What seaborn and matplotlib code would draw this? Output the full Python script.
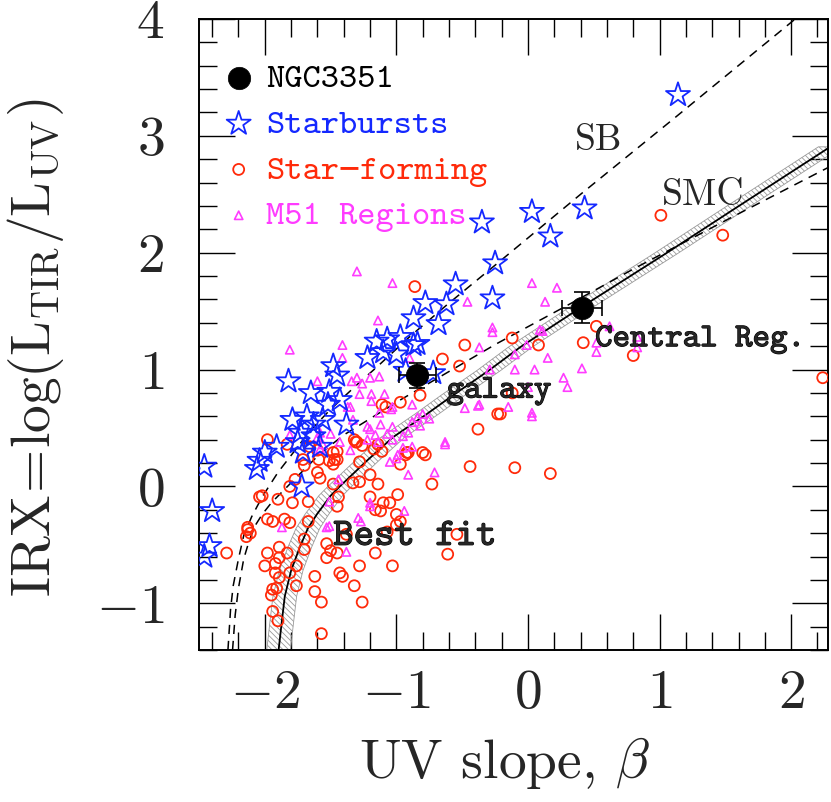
import numpy as np
import pandas as pd
import matplotlib
matplotlib.use("Agg")
import matplotlib.pyplot as plt
import matplotlib.patheffects as pe
from matplotlib.ticker import MultipleLocator
import seaborn as sns

# ---------------- data ----------------
sb_beta = [-2.28, -2.26, -2.24, -2.20, -2.16, -2.10, -2.02, -1.90, -1.79, -1.66,
           -1.50, -1.30, -1.15, -0.90, -0.62, -0.21, 0.40, 1.10, 2.02, 2.30]
sb_irx = [-1.40, -1.05, -0.85, -0.62, -0.42, -0.26, -0.09, 0.12, 0.28, 0.47,
          0.66, 0.87, 1.02, 1.28, 1.55, 1.93, 2.50, 3.14, 3.99, 4.25]

smc_beta = [-2.245, -2.225, -2.20, -2.16, -2.12, -2.076, -2.02, -1.95, -1.81, -1.70,
            -1.58, -1.40, -0.97, -0.24, 0.30, 0.80, 1.56, 2.30]
smc_irx = [-1.40, -1.10, -0.87, -0.62, -0.47, -0.34, -0.24, -0.14, 0.02, 0.145,
           0.28, 0.44, 0.74, 1.22, 1.55, 1.86, 2.31, 2.74]

fit_beta = [-1.895, -1.87, -1.848, -1.80, -1.734, -1.673, -1.605, -1.50, -1.43, -1.224,
            -1.027, -0.768, -0.57, -0.30, -0.061, 0.411, 1.057, 1.559, 2.297]
fit_irx = [-1.40, -1.15, -0.94, -0.72, -0.52, -0.36, -0.24, -0.08, 0.00, 0.22,
           0.42, 0.62, 0.78, 0.99, 1.19, 1.538, 2.00, 2.368, 2.906]
fit_beta_err = 0.09

ngc_name = ["galaxy", "Central Reg."]
ngc_beta = [-0.84, 0.41]
ngc_irx = [0.95, 1.53]
ngc_beta_err = [0.14, 0.15]
ngc_irx_err = [0.11, 0.13]

starburst_beta = [1.14, 0.43, 0.03, 0.17, -0.35, -0.25, -0.27, -0.55, -0.62, -0.78,
                  -0.87, -0.68, -0.84, -0.97, -1.07, -1.15, -1.22, -1.00, -1.10, -0.87,
                  -1.48, -1.45, -1.82, -1.65, -1.51, -1.43, -1.52, -1.79, -1.68, -1.63,
                  -1.56, -1.38, -1.73, -1.63, -1.91, -2.00, -2.06, -1.72, -2.46, -2.40,
                  -2.42, -2.46, -0.72, -0.93, -1.75, -1.58, -1.71, -2.04]
starburst_irx = [3.35, 2.38, 2.35, 2.14, 2.26, 1.91, 1.61, 1.73, 1.56, 1.57,
                 1.44, 1.39, 1.22, 1.28, 1.26, 1.24, 1.10, 1.13, 1.15, 1.21,
                 1.03, 0.95, 0.90, 0.80, 0.81, 0.74, 0.70, 0.57, 0.60, 0.53,
                 0.57, 0.53, 0.46, 0.43, 0.34, 0.29, 0.15, 0.00, 0.17, -0.21,
                 -0.51, -0.60, 0.97, 0.99, 0.38, 0.34, 0.29, 0.22]

sf_beta = [-0.48, -0.65, -0.82, -0.23, -0.38, -0.44, -0.73, -0.78, -0.91, -0.93,
           -0.97, -1.14, -1.20, -1.28, -1.10, -1.05, -0.99, -1.20, -1.16, -1.12,
           -1.00, -0.97, -1.00, -1.07, -0.54, -0.61, -1.03, -1.16, -1.28, -1.32,
           -1.26, -1.41, -1.43, -1.62, -1.62, -1.57, -1.57, -1.45, -1.50, -1.53,
           -1.53, -1.38, -1.45, -1.44, -1.48, -1.33, -1.28, -1.47, -1.48, -1.71,
           -1.70, -1.77, -1.81, -1.79, -1.67, -1.90, -2.02, -1.98, -1.94, -1.85,
           -1.81, -2.13, -2.14, -2.11, -2.29, -1.98, -1.89, -1.83, -1.89, -2.00,
           -1.92, -1.76, -1.81, -1.92, -1.89, -1.94, -1.91, -1.95, -1.76, -1.94,
           -1.70, -1.70, -1.67, -1.98, -1.83, -1.66, -1.60, -1.58, -1.59, -1.51,
           -1.32, -1.31, -1.45, -1.45, -1.11, -1.17, -1.14, -0.86, -0.52, -0.97,
           -1.11, -1.08, -0.80, -0.92, -1.30, -1.26, -1.48, -1.60, -0.12, 0.08,
           0.42, 0.52, 0.80, -0.10, 0.17, -0.12, -0.21, 2.24, 1.01, 1.48,
           -2.04, -1.90, -2.13]
sf_irx = [1.21, 1.09, 0.78, 0.62, 0.49, 0.17, 0.02, 0.27, 0.29, 0.27,
          0.19, 0.02, 0.10, 0.04, -0.14, -0.14, -0.07, -0.09, -0.20, -0.21,
          -0.24, -0.30, -0.33, -0.39, -0.41, -0.58, -0.68, -0.57, -0.68, -0.85,
          -0.99, -0.77, -0.74, -0.77, -0.90, -0.99, -1.26, -0.57, -0.55, -0.61,
          -0.49, -0.41, -0.17, -0.09, 0.02, 0.03, 0.21, 0.23, 0.19, 0.23,
          0.18, 0.06, 0.00, -0.14, -0.13, -0.11, -0.08, -0.28, -0.30, -0.28,
          -0.31, -0.35, -0.43, -0.40, -0.57, -0.57, -0.52, -0.57, -0.61, -0.68,
          -0.66, -0.68, -0.74, -0.74, -0.78, -0.88, -0.87, -0.93, -0.85, -1.07,
          -0.54, -0.45, -0.30, 0.40, 0.36, 0.34, 0.12, 0.07, 0.23, 0.22,
          0.40, 0.38, 0.30, 0.23, 0.30, 0.32, 0.36, 1.71, 1.03, 0.72,
          0.70, 0.68, 0.29, 0.29, 0.38, 0.35, 0.29, 0.31, 1.27, 1.21,
          1.23, 1.37, 1.12, 0.16, 0.11, 0.80, 0.62, 0.93, 2.32, 2.15,
          -0.09, -1.15, -0.37]

m51_beta = [-1.30, -1.03, -1.14, -0.46, -0.27, 0.03, 0.22, 0.13, 0.09, 0.11,
            -0.10, -0.01, 0.15, -0.10, 0.05, 0.52, 0.62, 0.83, 0.83, 0.52,
            0.41, 0.27, 0.30, -0.15, 0.03, 0.03, 0.00, -0.27, -1.41, -1.41,
            -0.90, -1.13, -1.20, -1.30, -1.26, -1.09, -1.28, -1.19, -1.37, -1.13,
            -1.04, -0.48, -0.37, -0.84, -0.91, -1.03, -1.20, -1.12, -1.07, -1.22,
            -1.14, -1.43, -1.50, -1.35, -1.58, -0.88, -0.95, -0.63, -1.81, -1.60,
            -1.34, -1.35, -1.19, -1.03, -0.88, -0.80, -0.38, -0.37, -0.29, -1.33,
            -1.22, -1.16, -1.03, -0.95, -0.88, -0.82, -0.75, -0.63, -0.91, -0.71,
            -1.05, -0.99, -1.00, -1.58, -1.56, -1.44, -1.51, -1.51, -1.53, -1.29,
            -1.20, -1.20, -0.94, -1.27, -1.38, -1.87, -1.81, -1.60]
m51_irx = [1.84, 1.74, 1.42, 1.58, 1.36, 1.74, 1.70, 1.58, 1.34, 1.33,
           1.13, 1.21, 1.10, 1.00, 1.00, 1.23, 1.37, 1.28, 1.19, 1.15,
           1.01, 0.93, 0.85, 0.68, 0.63, 0.60, 0.85, 1.32, 1.21, 1.10,
           1.10, 0.94, 0.93, 0.93, 0.88, 0.79, 0.79, 0.79, 0.68, 0.63,
           0.66, 0.67, 0.70, 0.59, 0.46, 0.51, 0.49, 0.53, 0.45, 0.40,
           0.38, 0.38, 0.45, 0.31, 0.32, 0.34, 0.33, 0.38, 1.17, 0.90,
           0.90, 0.68, 0.73, 0.68, 0.70, 0.62, 0.69, 1.19, 1.00, 0.57,
           0.51, 0.44, 0.40, 0.43, 0.55, 0.52, 0.58, 0.36, 0.10, 0.12,
           0.21, 0.27, 0.24, 0.46, 0.36, 0.06, -0.13, -0.34, -0.35, -0.27,
           -0.14, -0.17, -0.21, -0.30, -0.56, -0.35, 0.44, 0.42]

legend_labels = ["NGC3351", "Starbursts", "Star\u2212forming", "M51 Regions"]
colors = {"NGC3351": "black", "Starbursts": "#1428ff",
          "Star\u2212forming": "#ff2a0a", "M51 Regions": "#ff3cff"}

# ---------------- style ----------------
sns.set_style("ticks")
plt.rcParams["font.family"] = ["cmr10", "DejaVu Serif"]
plt.rcParams["mathtext.fontset"] = "cm"
plt.rcParams["axes.formatter.use_mathtext"] = True
plt.rcParams["hatch.linewidth"] = 0.6
plt.rcParams["hatch.color"] = "0.55"
TT = ["cmtt10", "DejaVu Sans Mono"]

fig = plt.figure(figsize=(8.31, 8.02), dpi=100)
ax = fig.add_axes([199 / 831, 1 - 650 / 802, 629 / 831, 631 / 802])

# hatched uncertainty band of best fit
fit_b = np.array(fit_beta)
ax.fill_betweenx(fit_irx, fit_b - fit_beta_err, fit_b + fit_beta_err,
                 facecolor="none", edgecolor="0.6", hatch="\\\\\\\\\\\\",
                 linewidth=0.6, zorder=1)

# curves
sns.lineplot(x=sb_beta, y=sb_irx, sort=False, estimator=None, color="black",
             lw=1.1, linestyle=(0, (6, 4.5)), ax=ax, zorder=2)
sns.lineplot(x=smc_beta, y=smc_irx, sort=False, estimator=None, color="black",
             lw=1.1, linestyle=(0, (6, 4.5)), ax=ax, zorder=2)
sns.lineplot(x=fit_beta, y=fit_irx, sort=False, estimator=None, color="black",
             lw=1.3, ax=ax, zorder=2)

# scatter groups
sns.scatterplot(x=sf_beta, y=sf_irx, marker="o", s=62, color=colors["Star\u2212forming"],
                facecolor="none", edgecolor=colors["Star\u2212forming"], linewidth=1.3,
                label="Star\u2212forming", ax=ax, zorder=3)
sns.scatterplot(x=m51_beta, y=m51_irx, marker="^", s=36, color=colors["M51 Regions"],
                facecolor="none", edgecolor=colors["M51 Regions"], linewidth=1.2,
                label="M51 Regions", ax=ax, zorder=3)
sns.scatterplot(x=starburst_beta, y=starburst_irx, marker="*", s=330, color=colors["Starbursts"],
                facecolor="none", edgecolor=colors["Starbursts"], linewidth=1.3,
                label="Starbursts", ax=ax, zorder=4)

ax.errorbar(ngc_beta, ngc_irx, xerr=ngc_beta_err, yerr=ngc_irx_err, fmt="none",
            ecolor="black", elinewidth=1.2, capsize=5.5, capthick=1.2, zorder=5)
sns.scatterplot(x=ngc_beta, y=ngc_irx, marker="o", s=260, color="black",
                edgecolor="black", linewidth=0.5, label="NGC3351", ax=ax, zorder=6)

# ---------------- axes ----------------
ax.set_xlim(-2.5, 2.28)
ax.set_ylim(-1.4, 4.0)
ax.xaxis.set_major_locator(MultipleLocator(1))
ax.xaxis.set_minor_locator(MultipleLocator(0.2))
ax.yaxis.set_major_locator(MultipleLocator(1))
ax.yaxis.set_minor_locator(MultipleLocator(0.2))
ax.tick_params(which="both", direction="in", top=True, right=True, color="black")
ax.tick_params(which="major", length=26, width=1.0, labelsize=40)
ax.tick_params(axis="x", which="major", pad=14)
ax.tick_params(axis="y", which="major", pad=25)
ax.tick_params(which="minor", length=13, width=1.0)
for sp in ax.spines.values():
    sp.set_linewidth(1.4)
    sp.set_color("black")

ax.set_xlabel(r"UV slope, $\beta$", fontsize=40)
ax.xaxis.set_label_coords(0.486, -0.135)
ax.set_ylabel(r"$\mathrm{IRX\!=\!log(L_{TIR}/L_{UV})}$", fontsize=40)
ax.yaxis.set_label_coords(-0.212, 0.479)

# annotations
bold = [pe.withStroke(linewidth=0.8, foreground="black")]
ax.text(-0.62, 0.76, ngc_name[0], family=TT, fontsize=24, va="baseline",
        path_effects=bold)
ax.text(0.51, 1.20, ngc_name[1], family=TT, fontsize=24, va="baseline",
        path_effects=bold)
ax.text(-1.48, -0.50, "Best fit", family=TT, fontsize=28, va="baseline",
        path_effects=bold)
ax.text(0.36, 2.88, "SB", fontsize=27, va="baseline")
ax.text(1.02, 2.41, "SMC", fontsize=27, va="baseline")

# legend
handles, labels = ax.get_legend_handles_labels()
order = [labels.index(l) for l in legend_labels]
leg = ax.legend([handles[i] for i in order], [labels[i] for i in order],
                loc="upper left", bbox_to_anchor=(0.041, 0.931), frameon=False,
                prop={"family": TT, "size": 25}, handlelength=0.8,
                handletextpad=0.4, labelspacing=0.39, borderpad=0, borderaxespad=0,
                scatterpoints=1)
for txt, lab in zip(leg.get_texts(), legend_labels):
    txt.set_color(colors[lab])

fig.savefig("out.png", dpi=100)
